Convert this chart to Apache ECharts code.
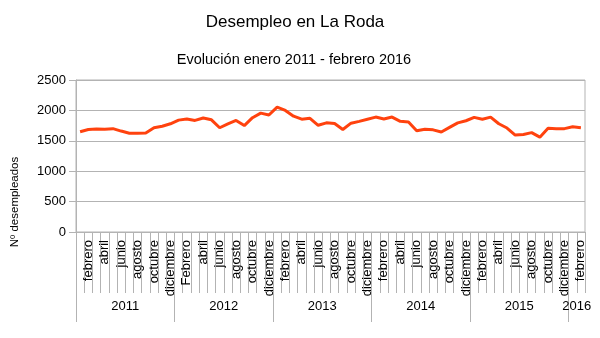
<!DOCTYPE html>
<html>
<head>
<meta charset="utf-8">
<script src="https://cdn.jsdelivr.net/npm/echarts@6/dist/echarts.min.js"></script>
<style>html,body{margin:0;padding:0;background:#fff}#c{width:600px;height:338px}</style>
</head>
<body>
<div id="c"></div>
<script>
var titleText = 'Desempleo en La Roda';
var subtitleText = 'Evolución enero 2011 - febrero 2016';
var yAxisName = 'Nº desempleados';

var categories = [
  'enero','febrero','marzo','abril','mayo','junio','julio','agosto','septiembre','octubre','noviembre','diciembre',
  'enero','Febrero','marzo','abril','mayo','junio','julio','agosto','septiembre','octubre','noviembre','diciembre',
  'enero','febrero','marzo','abril','mayo','junio','julio','agosto','septiembre','octubre','noviembre','diciembre',
  'enero','febrero','marzo','abril','mayo','junio','julio','agosto','septiembre','octubre','noviembre','diciembre',
  'enero','febrero','marzo','abril','mayo','junio','julio','agosto','septiembre','octubre','noviembre','diciembre',
  'enero','febrero'
];
var years = ['2011','2012','2013','2014','2015','2016'];
var monthsPerYear = [12, 12, 12, 12, 12, 2];

var desempleados = [
  1650, 1685, 1695, 1690, 1700, 1660, 1625, 1625, 1630, 1715, 1740, 1780,
  1840, 1860, 1835, 1875, 1845, 1715, 1780, 1835, 1750, 1880, 1955, 1925,
  2055, 2000, 1905, 1855, 1870, 1755, 1795, 1785, 1685, 1790, 1820, 1855,
  1890, 1860, 1890, 1820, 1810, 1665, 1690, 1680, 1645, 1720, 1795, 1830,
  1885, 1855, 1890, 1780, 1710, 1595, 1605, 1635, 1560, 1705, 1700, 1700,
  1730, 1715
];

var yTicks = [0, 500, 1000, 1500, 2000, 2500];

// year group boundaries and centres (in category units)
var yearStarts = [], yearCenters = [], acc = 0;
for (var i = 0; i < years.length; i++) {
  yearStarts.push(acc);
  yearCenters.push(acc + monthsPerYear[i] / 2);
  acc += monthsPerYear[i];
}

var FONT = 'Liberation Sans';
var GRID = '#b3b3b3';

var chart = echarts.init(document.getElementById('c'), null, {renderer: 'canvas'});
chart.setOption({
  animation: false,
  backgroundColor: '#ffffff',
  title: [
    {text: titleText, left: 295, top: 14, textAlign: 'center', padding: 0,
     textStyle: {fontFamily: FONT, fontSize: 17, fontWeight: 'normal', color: '#000'}},
    {text: subtitleText, left: 294, top: 52, textAlign: 'center', padding: 0,
     textStyle: {fontFamily: FONT, fontSize: 14.5, fontWeight: 'normal', color: '#000'}}
  ],
  graphic: [{
    type: 'text', x: 15, y: 202, rotation: Math.PI / 2,
    style: {text: yAxisName, fontFamily: FONT, fontSize: 11.5, fill: '#000',
            align: 'center', verticalAlign: 'middle'}
  }],
  grid: {left: 76, right: 15, top: 80, bottom: 106, show: true,
         borderColor: GRID, borderWidth: 1, outerBoundsMode: 'none'},
  xAxis: [
    {
      type: 'category', data: categories, boundaryGap: true, position: 'bottom',
      axisLine: {show: true, lineStyle: {color: GRID}},
      axisTick: {show: true, interval: 0, length: 61, lineStyle: {color: GRID}},
      axisLabel: {
        interval: function (idx) { return idx % 2 === 1; },
        rotate: 90, margin: 8, hideOverlap: false,
        fontFamily: FONT, fontSize: 13, color: '#000'
      },
      splitLine: {show: false}
    },
    {
      type: 'value', min: 0, max: acc, interval: 1, position: 'bottom', offset: 0,
      axisLine: {show: false},
      axisTick: {show: true, customValues: yearStarts, length: 90, lineStyle: {color: GRID}},
      axisLabel: {
        customValues: yearCenters, margin: 68,
        formatter: function (v) {
          var k = yearCenters.indexOf(v);
          return k >= 0 ? years[k] : '';
        },
        fontFamily: FONT, fontSize: 13, color: '#000'
      },
      splitLine: {show: false}
    }
  ],
  yAxis: {
    type: 'value', min: yTicks[0], max: yTicks[yTicks.length - 1], interval: yTicks[1] - yTicks[0],
    axisLine: {show: true, lineStyle: {color: GRID}},
    axisTick: {show: true, length: 7, lineStyle: {color: GRID}},
    axisLabel: {margin: 10, fontFamily: FONT, fontSize: 13, color: '#000',
                formatter: function (v) { return String(v); }},
    splitLine: {show: true, lineStyle: {color: GRID, width: 1}}
  },
  series: [{
    type: 'line', xAxisIndex: 0, data: desempleados, symbol: 'none', smooth: false,
    lineStyle: {color: '#ff420e', width: 3}, itemStyle: {color: '#ff420e'}
  }]
});
</script>
</body>
</html>
